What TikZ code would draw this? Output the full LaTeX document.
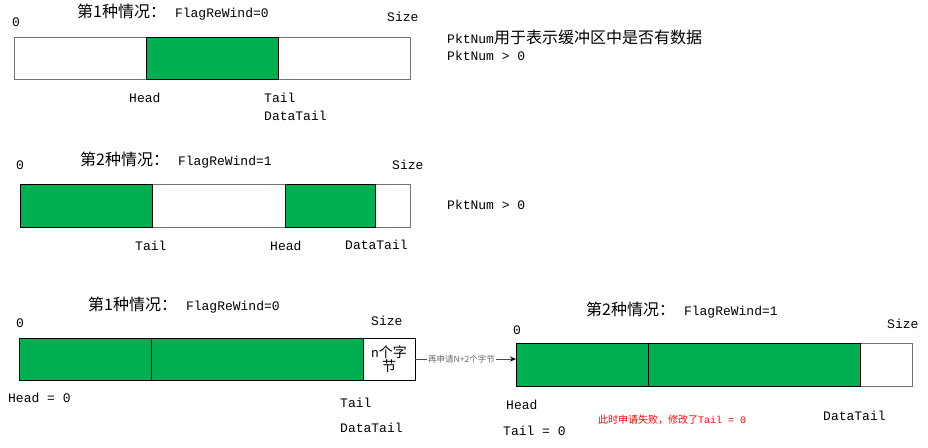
\documentclass[tikz,border=0pt]{standalone}
\usepackage{fontspec}
\usetikzlibrary{arrows.meta}
\setmainfont{Liberation Mono}
\newfontfamily\cjk{Noto Sans CJK SC}
\definecolor{bargreen}{HTML}{00B050}
\begin{document}
\begin{tikzpicture}[x=1pt,y=-1pt,
  cellbox/.style={inner sep=0pt,outer sep=0pt,anchor=north west,line width=0.7pt},
  wcell/.style={cellbox,draw=black!55,fill=white},
  gcell/.style={cellbox,draw=black,fill=bargreen},
  lbl/.style={anchor=west,inner sep=0pt,font=\fontsize{13}{14}\selectfont},
  ttl/.style={anchor=west,inner sep=0pt,font=\fontsize{13}{14}\selectfont},
  redlbl/.style={anchor=west,inner sep=0pt,text=red,font=\fontsize{10}{11}\selectfont},
]
\useasboundingbox (0,0) rectangle (928,447);
\newcommand{\cj}[1]{{\cjk\fontsize{16}{17}\selectfont #1}}
% ---------- row 1 ----------
\node[wcell,minimum width=396pt,minimum height=42pt] (r1all) at (14,37) {};
\node[gcell,minimum width=132pt,minimum height=42pt] (r1g) at (146,37) {};
\node[ttl] (t1) at (77,12) {\cj{第1种情况：}\hspace{9pt}FlagReWind=0};
\node[lbl] (z1) at (12,22) {0};
\node[lbl] (s1) at (387,17) {Size};
\node[lbl] (h1) at (129,98) {Head};
\node[lbl] (tl1) at (264,98) {Tail};
\node[lbl] (dt1) at (264,116) {DataTail};
\node[lbl] (p1) at (447,37) {PktNum\cj{用于表示缓冲区中是否有数据}};
\node[lbl] (p2) at (447,56) {PktNum > 0};
% ---------- row 2 ----------
\node[wcell,minimum width=390pt,minimum height=43pt] (r2all) at (20,184) {};
\node[gcell,minimum width=132pt,minimum height=43pt] (r2g1) at (20,184) {};
\node[gcell,minimum width=90pt,minimum height=43pt] (r2g2) at (285,184) {};
\node[ttl] (t2) at (80,160) {\cj{第2种情况：}\hspace{9pt}FlagReWind=1};
\node[lbl] (z2) at (16,165) {0};
\node[lbl] (s2) at (392,165) {Size};
\node[lbl] (tl2) at (135,246) {Tail};
\node[lbl] (h2) at (270,246) {Head};
\node[lbl] (dt2) at (345,245) {DataTail};
\node[lbl] (p3) at (447,205) {PktNum > 0};
% ---------- row 3 left ----------
\node[gcell,minimum width=132pt,minimum height=42pt] (r3g1) at (19,338) {};
\node[gcell,minimum width=212pt,minimum height=42pt] (r3g2) at (151,338) {};
\node[cellbox,draw=black,fill=white,minimum width=52pt,minimum height=42pt,align=center,
  font=\fontsize{13}{17}\selectfont] (r3w) at (363,338) {n{\cjk\fontsize{14}{15}\selectfont 个字}\\[-3pt]{\cjk\fontsize{14}{15}\selectfont 节}};
\node[ttl] (t3) at (88,305) {\cj{第1种情况：}\hspace{9pt}FlagReWind=0};
\node[lbl] (z3) at (16,323) {0};
\node[lbl] (s3) at (371,321) {Size};
\node[lbl] (h3) at (8,398) {Head = 0};
\node[lbl] (tl3) at (340,403) {Tail};
\node[lbl] (dt3) at (340,428) {DataTail};
% ---------- row 3 right ----------
\node[wcell,minimum width=396pt,minimum height=43pt] (r4all) at (516,343) {};
\node[gcell,minimum width=132pt,minimum height=43pt] (r4g1) at (516,343) {};
\node[gcell,minimum width=212pt,minimum height=43pt] (r4g2) at (648,343) {};
\node[ttl] (t4) at (586,310) {\cj{第2种情况：}\hspace{9pt}FlagReWind=1};
\node[lbl] (z4) at (513,330) {0};
\node[lbl] (s4) at (887,324) {Size};
\node[lbl] (h4) at (506,405) {Head};
\node[lbl] (tl4) at (503,431) {Tail = 0};
\node[lbl] (dt4) at (823,416) {DataTail};
\node[redlbl] (red) at (598,420) {{\cjk 此时申请失败，修改了}Tail = 0};
% ---------- arrow ----------
\draw[line width=0.6pt,black!70,-{Stealth[length=6pt,width=5pt,black]}] (r3w.east) -- (r3w.east -| r4g1.west)
  node[pos=0.46,fill=white,inner sep=1pt,text=black!60,font=\cjk\fontsize{8.5}{9}\selectfont] (al) {再申请N+2个字节};
\end{tikzpicture}
\end{document}
